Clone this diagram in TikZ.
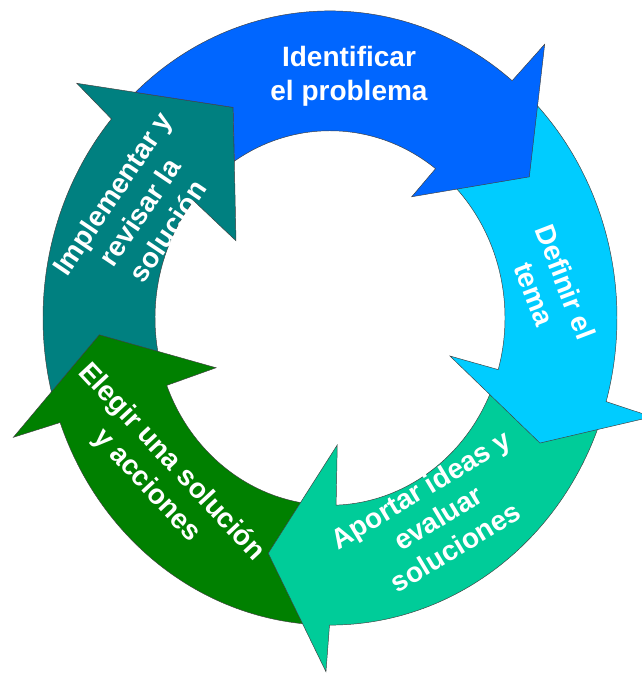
\documentclass[tikz,border=0pt]{standalone}
\usepackage{fontspec}
\usepackage{tikz}
\usetikzlibrary{shapes,arrows}
\newfontfamily\cyclefont{Liberation Sans}
\definecolor{StepBlue}{HTML}{0066FF}
\definecolor{StepSky}{HTML}{00CCFF}
\definecolor{StepSea}{HTML}{00CC99}
\definecolor{StepGreen}{HTML}{008000}
\definecolor{StepTeal}{HTML}{008080}

\begin{document}
\begin{tikzpicture}[x=0.03cm, y=0.03cm]
	\tikzstyle{Ring}  = [draw=black!75, line width=0.4pt, line join=miter]
	\tikzstyle{Label} = [text=white, align=center, inner sep=0pt, font=\cyclefont\bfseries\fontsize{23.9}{28.7}\selectfont]

	\useasboundingbox (-330,-355) rectangle (311,318);

	% ring of arrows, drawn so that each head lies over the next tail
	\begin{scope}[yscale=1.07]
		\path[Ring, fill=StepTeal] (197:287) arc[start angle=197, end angle=139.6, radius=287]
			-- (139.1:335) -- (116.2:219.4) -- (142.5:118.5) -- (141.2:175)
			arc[start angle=141.2, end angle=197, radius=175] -- cycle;
		\path[Ring, fill=StepGreen] (267:287) arc[start angle=267, end angle=199.9, radius=287]
			-- (199.4:335.7) -- (183.9:231.2) -- (202.2:123.1) -- (201.1:175)
			arc[start angle=201.1, end angle=267, radius=175] -- cycle;
		\path[Ring, fill=StepSea] (-19:287) arc[start angle=-19, end angle=-90.1, radius=287]
			-- (-90.7:330.6) -- (-105.7:228.4) -- (-86.5:118.9) -- (-88:175)
			arc[start angle=-88, end angle=-19, radius=175] -- cycle;
		\path[Ring, fill=StepSky] (47.5:287) arc[start angle=47.5, end angle=-15.8, radius=287]
			-- (-16:335) -- (-29.1:240.3) -- (-16.5:125.1) -- (-16:175)
			arc[start angle=-16, end angle=47.5, radius=175] -- cycle;
		\path[Ring, fill=StepBlue] (132.7:287) arc[start angle=132.7, end angle=50.6, radius=287]
			-- (50:334) -- (33.5:239) -- (54.2:139.7) -- (52.9:175)
			arc[start angle=52.9, end angle=123.1, radius=175] -- (116.2:219.4) -- cycle;
	\end{scope}

	\node (identificar) at (19,242) [Label] {Identificar\\el problema};
	\node (definir) at (220,30) [Label, rotate=-69] {Definir el\\tema};
	\node (aportar) at (108,-200) [Label, rotate=31] {Aportar ideas y\\evaluar\\soluciones};
	\node (elegir) at (-171,-156) [Label, rotate=-47] {Elegir una solución\\y acciones};
	\node (implementar) at (-190,106) [Label, rotate=56] {Implementar y\\revisar la\\solución};
\end{tikzpicture}
\end{document}
